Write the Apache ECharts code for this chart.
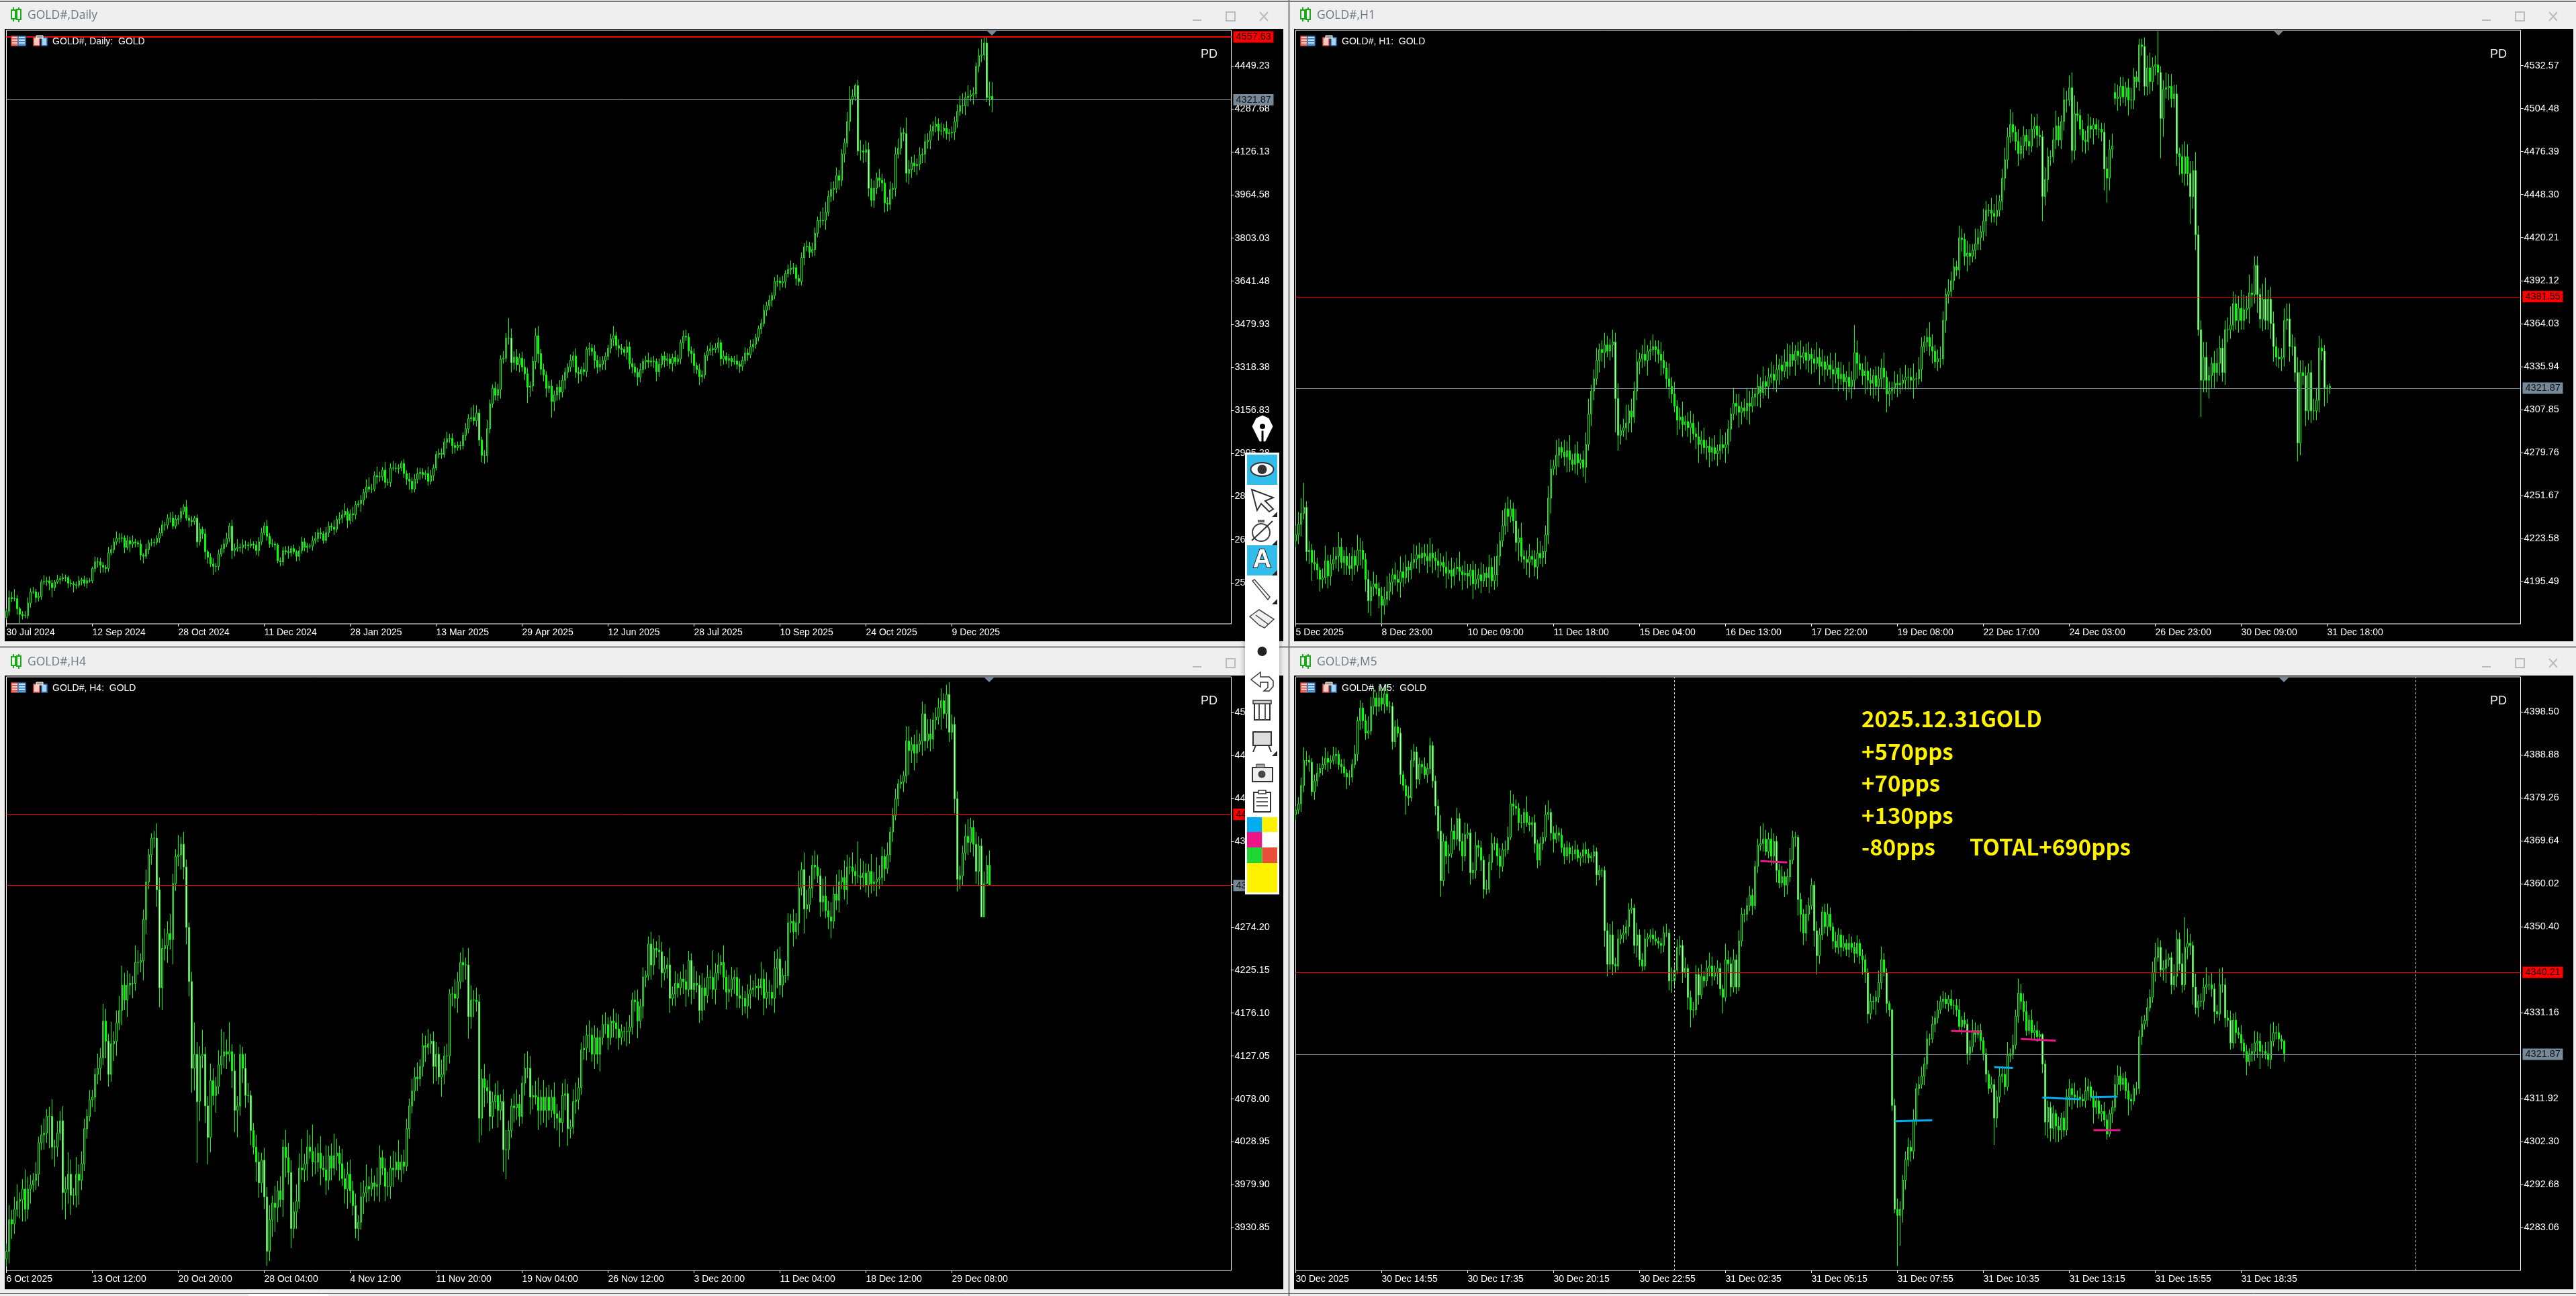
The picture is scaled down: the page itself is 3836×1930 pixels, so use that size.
<!DOCTYPE html>
<html><head><meta charset="utf-8">
<style>html,body{margin:0;padding:0;background:#efefef}#c{width:3836px;height:1930px}</style>
<script src="https://cdn.jsdelivr.net/npm/echarts@6/dist/echarts.min.js"></script></head>
<body><div id="c"></div>
<script>
// ---------- DAILY ----------
const dailyFirstOpen = 2380;
const dailyClose = [
2404,2455,2451,2451,2413,2392,2387,2387,2434,2476,2476,2455,2459,2513,2515,2518,2509,2492,2513,2522,
2526,2529,2530,2509,2507,2503,2501,2518,2522,2509,2518,2518,2564,2589,2589,2576,2568,2564,2623,2635,
2664,2677,2677,2679,2643,2669,2656,2664,2660,2656,2614,2610,2635,2660,2660,2662,2677,2698,2727,2727,
2753,2753,2723,2748,2753,2778,2795,2753,2744,2740,2753,2664,2711,2694,2627,2606,2581,2572,2572,2618,
2639,2656,2677,2723,2631,2639,2643,2643,2652,2652,2650,2656,2652,2631,2664,2698,2723,2685,2656,2656,
2652,2593,2589,2631,2627,2623,2639,2627,2610,2631,2664,2643,2648,2648,2669,2677,2698,2694,2669,2698,
2723,2719,2711,2748,2753,2765,2778,2744,2769,2765,2803,2807,2820,2849,2870,2862,2862,2912,2908,2908,
2933,2887,2887,2941,2941,2939,2941,2958,2920,2899,2891,2862,2899,2920,2925,2916,2920,2891,2912,2941,
2992,2996,2992,3038,3050,3052,3025,3017,3025,3025,3063,3088,3126,3130,3118,3147,3046,2988,2988,3088,
3181,3240,3214,3235,3349,3353,3428,3428,3336,3357,3328,3353,3319,3294,3244,3248,3340,3437,3370,3311,
3290,3240,3248,3190,3215,3244,3225,3270,3300,3319,3345,3361,3300,3294,3310,3302,3386,3390,3378,3345,
3319,3330,3344,3360,3390,3425,3437,3400,3390,3385,3374,3395,3332,3320,3300,3282,3310,3340,3345,3338,
3342,3340,3302,3330,3361,3345,3350,3332,3355,3340,3350,3411,3435,3432,3380,3370,3325,3310,3283,3290,
3362,3380,3388,3385,3392,3411,3350,3360,3345,3352,3340,3342,3330,3322,3345,3372,3365,3395,3405,3430,
3463,3483,3532,3550,3570,3588,3640,3642,3635,3640,3670,3685,3690,3692,3652,3640,3730,3770,3772,3750,
3760,3821,3869,3868,3870,3900,3960,3985,3990,4037,4020,4118,4160,4240,4325,4335,4375,4130,4130,4125,
4135,3990,3945,3990,4029,4020,4010,3935,3930,3985,3990,4118,4140,4198,4195,4046,4060,4085,4075,4080,
4115,4118,4165,4170,4205,4222,4230,4205,4205,4215,4195,4198,4200,4240,4278,4300,4300,4330,4335,4340,
4345,4447,4487,4490,4535,4330,4335,4322];
const dailyWickUp = [
8,22,18,30,12,6,10,14,18,12,16,10,14,8,20,12,14,10,6,16,
8,14,10,6,12,8,10,14,6,12,10,8,6,16,14,12,10,8,18,14,
12,22,16,14,8,16,12,20,10,8,14,6,18,10,14,12,10,16,14,10,
12,18,20,14,10,12,8,22,10,14,8,12,20,8,16,6,12,18,10,14,
12,16,18,10,20,16,26,12,18,14,10,16,8,12,14,16,12,20,10,16,
8,6,10,12,14,18,8,12,6,14,16,12,10,8,14,20,12,16,8,18,
14,10,22,12,18,16,26,10,14,22,12,10,16,12,24,30,16,14,28,16,
10,26,12,14,22,16,12,8,14,10,20,12,16,18,14,12,10,22,18,12,
10,14,16,12,22,14,16,10,12,14,10,18,14,32,40,24,12,10,16,28,
14,12,20,18,12,22,16,63,30,18,24,14,20,26,18,14,16,24,30,14,
18,12,16,20,14,10,22,16,14,12,18,14,24,16,10,22,8,18,14,20,
16,24,14,12,10,16,30,12,20,14,10,22,16,18,12,14,20,10,14,24,
12,16,10,18,8,14,18,16,12,22,14,10,18,20,12,14,16,10,18,14,
10,16,20,12,14,16,10,18,12,14,8,16,20,10,12,18,14,22,16,12,
10,14,18,12,16,10,14,20,12,18,10,16,24,14,10,12,16,12,18,14,
22,18,12,28,40,32,18,24,22,26,18,16,14,30,40,22,6,18,34,20,
28,22,30,24,16,28,20,14,18,26,16,22,30,18,14,50,30,20,26,18,
24,18,24,22,20,16,24,18,26,14,22,12,18,16,22,30,38,18,34,16,
20,12,22,50,18,18,46,44];
const dailyWickDown = [
6,14,10,8,18,28,12,8,10,14,6,16,12,10,8,14,22,30,10,6,
14,8,12,16,10,24,12,8,14,10,16,6,8,12,18,24,16,14,10,8,
12,10,16,12,18,8,26,12,14,10,16,22,8,14,10,12,8,14,10,18,
12,14,10,8,16,12,10,8,22,14,10,18,12,16,24,20,10,26,18,12,
8,14,10,12,26,18,10,14,20,12,16,8,12,14,18,10,8,14,12,10,
16,8,14,12,10,18,12,8,16,14,10,12,16,8,14,10,12,16,10,8,
14,12,18,10,14,16,8,24,12,22,14,8,26,16,18,10,12,8,22,16,
12,18,10,14,8,12,16,10,14,18,26,12,10,14,20,12,16,14,10,16,
8,12,14,10,20,12,26,18,10,14,12,16,14,10,14,18,18,22,26,22,
14,12,16,18,28,14,12,20,30,22,18,24,14,20,50,30,16,24,30,18,
20,28,14,50,30,18,24,16,28,18,14,22,18,30,24,12,16,20,14,26,
20,14,18,30,12,16,22,14,28,16,12,22,18,20,14,28,16,12,24,18,
14,20,30,16,12,22,18,16,24,14,10,16,20,12,18,30,24,14,26,18,
12,16,14,20,10,16,22,18,12,24,14,10,16,20,14,12,18,10,16,14,
12,16,10,18,14,20,12,16,24,14,20,12,16,18,22,14,12,24,14,18,
14,20,12,22,14,30,12,18,34,16,30,18,26,14,30,18,14,14,30,34,
30,26,20,24,18,22,26,30,22,18,30,26,14,20,24,28,34,26,20,30,
18,26,28,22,28,16,18,30,14,22,18,24,16,24,20,14,26,30,28,16,
30,14,18,20,16,14,26,39];
const dailyTickValues = [4449.23,4287.68,4126.13,3964.58,3803.03,3641.48,3479.93,3318.38,3156.83,2995.28,2833.73,2672.18,2510.63];
const dailyDates = ['30 Jul 2024','12 Sep 2024','28 Oct 2024','11 Dec 2024','28 Jan 2025','13 Mar 2025','29 Apr 2025','12 Jun 2025','28 Jul 2025','10 Sep 2025','24 Oct 2025','9 Dec 2025'];
const dailyRange = [2356.5,4582.7];
const dailyBid = 4557.63, dailyAsk = 4321.87;

// ---------- H1 ----------
const h1FirstOpen = 4222;
const h1Close = [
4226,4233,4240,4244,4215,4216,4208,4207,4203,4197,4198,4209,4199,4207,4210,4212,4218,4208,4212,4206,
4204,4212,4206,4216,4216,4210,4197,4183,4192,4194,4191,4186,4180,4184,4189,4195,4200,4197,4195,4202,
4198,4205,4203,4208,4210,4213,4211,4214,4212,4209,4214,4211,4209,4206,4208,4205,4201,4203,4199,4204,
4205,4202,4200,4201,4199,4203,4194,4197,4200,4196,4201,4198,4205,4196,4200,4212,4222,4232,4243,4238,
4243,4235,4221,4224,4212,4210,4208,4212,4210,4205,4214,4211,4215,4226,4250,4269,4271,4278,4283,4280,
4277,4281,4275,4272,4279,4273,4275,4270,4285,4305,4320,4328,4340,4347,4345,4350,4346,4350,4352,4315,
4291,4294,4296,4299,4307,4303,4320,4339,4341,4344,4340,4346,4347,4349,4347,4344,4340,4335,4328,4323,
4318,4310,4301,4303,4298,4300,4296,4299,4292,4290,4285,4288,4283,4284,4280,4283,4279,4281,4285,4283,
4285,4295,4305,4312,4310,4306,4309,4307,4312,4310,4316,4318,4323,4319,4326,4323,4329,4331,4327,4334,
4337,4333,4339,4336,4344,4340,4346,4343,4342,4345,4340,4344,4341,4338,4342,4336,4339,4334,4337,4334,
4331,4335,4328,4331,4326,4329,4323,4327,4345,4338,4334,4330,4333,4327,4325,4330,4323,4328,4335,4329,
4318,4320,4322,4325,4324,4325,4327,4329,4329,4327,4328,4328,4334,4349,4352,4355,4349,4346,4339,4341,
4341,4366,4383,4385,4392,4401,4399,4420,4419,4408,4410,4408,4412,4416,4420,4424,4431,4438,4438,4436,
4434,4438,4444,4459,4471,4486,4494,4489,4483,4475,4480,4487,4483,4480,4491,4493,4487,4486,4447,4458,
4473,4473,4484,4493,4484,4496,4510,4510,4518,4477,4501,4500,4491,4484,4483,4493,4491,4494,4491,4491,
4489,4465,4459,4478,4480,4511,4512,4519,4512,4518,4510,4510,4525,4522,4546,4545,4519,4531,4522,4532,
4533,4528,4498,4517,4518,4519,4511,4514,4475,4473,4462,4473,4462,4447,4464,4422,4360,4327,4342,4327,
4330,4338,4332,4338,4348,4332,4360,4360,4363,4377,4366,4374,4366,4373,4374,4384,4383,4402,4383,4367,
4380,4366,4380,4364,4349,4342,4341,4342,4366,4367,4349,4349,4332,4286,4332,4330,4307,4332,4307,4307,
4314,4348,4346,4322,4322,4323];
const h1WickUp = [
3,4,5,8,2,3,2,4,2,1,3,5,2,3,4,3,5,3,2,3,
4,3,2,5,4,3,2,3,2,4,3,2,3,4,5,3,2,4,3,5,
3,4,2,3,5,3,4,2,3,4,5,3,2,4,3,2,5,3,4,2,
3,5,2,4,3,2,3,5,2,4,3,2,4,3,6,4,3,5,2,4,
3,2,4,3,5,2,3,4,2,3,5,4,2,3,4,3,2,5,3,2,
4,3,5,2,3,4,2,3,4,5,2,3,4,2,3,4,3,2,4,3,
5,2,3,6,2,4,3,4,2,3,5,2,3,4,2,3,4,3,2,5,
3,4,2,3,5,2,3,4,3,2,5,3,4,2,3,3,4,2,5,3,
4,3,2,5,3,4,2,3,5,4,3,2,4,3,5,2,3,4,3,5,
2,3,4,6,3,4,2,3,5,2,3,4,2,3,5,3,4,2,3,4,
3,5,2,4,3,2,5,3,9,4,3,2,5,3,4,2,3,4,3,5,
2,3,2,4,3,5,2,4,3,3,5,2,4,3,2,3,5,4,2,3,
4,3,2,4,3,3,2,4,3,2,4,3,2,5,3,2,4,3,2,4,
3,5,2,3,4,3,5,4,2,4,3,3,2,4,5,3,4,3,2,4,
3,2,4,5,3,2,4,3,4,5,6,4,2,3,3,4,3,2,2,3,
2,3,4,3,4,3,4,3,3,2,3,4,3,2,2,2,3,4,5,3,
3,11,2,3,5,4,4,3,3,2,4,5,4,4,3,6,3,3,5,5,
3,2,4,5,4,3,3,4,6,4,3,4,6,5,4,6,3,3,3,2,
5,7,3,4,4,3,3,3,4,5,5,4,3,5,4,4,3,3,4,4,
4,4,3,2,1,1];
const h1WickDown = [
2,3,4,2,3,4,6,2,3,4,3,2,4,3,2,3,5,2,4,3,
2,4,3,2,5,3,4,4,5,3,2,4,6,3,2,3,4,2,3,5,
3,2,4,3,2,3,5,2,3,4,2,5,3,4,2,3,5,2,4,3,
2,3,5,2,4,3,5,2,3,4,2,3,5,2,3,4,3,2,3,5,
2,4,3,6,2,3,4,5,2,3,4,2,3,4,3,5,2,3,4,2,
3,5,4,2,3,4,2,3,5,2,4,3,2,4,3,5,2,3,4,11,
5,3,2,4,3,5,2,3,4,3,2,5,3,2,4,3,5,2,3,4,
3,2,5,3,4,2,3,5,2,4,6,3,2,4,5,3,2,4,3,2,
5,3,4,2,3,5,4,2,3,6,2,3,4,5,2,3,4,2,3,4,
5,3,2,4,3,2,5,3,4,2,3,4,5,3,2,6,3,4,2,3,
5,3,4,2,3,6,2,4,3,5,2,3,6,3,4,5,3,5,3,4,
6,4,3,2,4,3,2,3,4,3,6,3,2,4,2,3,3,4,2,3,
3,2,4,3,2,3,2,3,4,3,5,3,2,3,2,4,3,5,2,3,
2,3,2,3,4,3,2,3,3,4,2,4,3,3,2,3,4,3,8,3,
4,3,2,3,2,3,3,4,2,4,3,2,2,4,4,3,3,5,2,3,
3,7,8,4,3,2,4,3,2,3,5,3,3,2,3,3,3,3,4,3,
3,4,13,6,3,4,3,3,4,6,3,4,4,9,4,5,2,12,4,4,
6,4,5,3,4,3,4,4,3,2,3,4,3,3,3,5,4,3,6,3,
4,3,3,5,5,3,3,4,3,3,5,3,3,6,4,3,5,3,4,3,
3,4,3,6,5,2];
const h1GapOpens = [[305,4515]];
const h1TickValues = [4532.57,4504.48,4476.39,4448.30,4420.21,4392.12,4364.03,4335.94,4307.85,4279.76,4251.67,4223.58,4195.49];
const h1Dates = ['5 Dec 2025','8 Dec 23:00','10 Dec 09:00','11 Dec 18:00','15 Dec 04:00','16 Dec 13:00','17 Dec 22:00','19 Dec 08:00','22 Dec 17:00','24 Dec 03:00','26 Dec 23:00','30 Dec 09:00','31 Dec 18:00'];
const h1Range = [4167.9,4555.6];
const h1Bid = 4381.55, h1Ask = 4321.87;

// ---------- H4 ----------
const h4FirstOpen = 3895;
const h4Close = [
3904,3940,3935,3952,3961,3963,3975,3952,3975,3980,3985,3992,4028,4037,4039,4058,4058,4023,4023,4039,
4053,3971,3975,3992,3968,3968,3992,3985,4004,4044,4058,4077,4080,4106,4113,4125,4167,4144,4106,4141,
4144,4165,4179,4208,4191,4208,4210,4210,4234,4234,4236,4283,4326,4357,4376,4376,4317,4205,4250,4253,
4267,4260,4324,4355,4357,4369,4343,4274,4212,4113,4129,4075,4127,4129,4070,4034,4099,4082,4092,4117,
4127,4132,4129,4132,4110,4065,4070,4129,4113,4082,4082,4042,4023,4006,3982,4008,3966,3904,3940,3959,
3954,3973,3963,4023,4011,3994,3930,3949,3961,3999,3997,4004,4023,4018,4006,4006,4016,3999,3997,3985,
4013,3999,4013,4016,4004,3987,3975,3992,3973,3956,3930,3937,3966,3971,3978,3975,3982,3978,3980,4011,
3999,3978,3978,3999,3997,4006,3997,4006,4001,4044,4070,4087,4103,4101,4115,4139,4137,4141,4144,4115,
4129,4103,4106,4127,4127,4198,4198,4193,4212,4234,4231,4231,4172,4191,4191,4189,4056,4101,4091,4087,
4058,4075,4082,4065,4075,4020,4020,4042,4070,4068,4072,4058,4096,4113,4113,4080,4082,4080,4065,4080,
4065,4080,4065,4080,4061,4056,4051,4082,4084,4044,4046,4075,4077,4091,4134,4136,4151,4151,4129,4148,
4129,4148,4163,4163,4148,4167,4165,4158,4148,4155,4155,4155,4160,4191,4189,4167,4184,4217,4219,4255,
4231,4250,4248,4246,4222,4227,4231,4193,4198,4210,4205,4215,4212,4203,4236,4203,4210,4208,4179,4205,
4196,4217,4217,4203,4222,4231,4234,4217,4200,4203,4215,4217,4196,4193,4193,4184,4198,4203,4205,4207,
4205,4215,4193,4200,4200,4193,4227,4238,4208,4219,4219,4279,4281,4269,4279,4319,4340,4295,4300,4319,
4345,4343,4333,4303,4310,4293,4286,4281,4312,4305,4326,4331,4317,4343,4343,4338,4333,4333,4331,4336,
4322,4338,4324,4326,4329,4331,4355,4341,4357,4383,4402,4421,4438,4440,4447,4487,4476,4483,4473,4483,
4487,4518,4487,4495,4489,4511,4514,4525,4533,4518,4540,4497,4506,4421,4329,4333,4359,4378,4371,4388,
4369,4338,4367,4286,4324,4345,4322];
const h4WickUp = [
6,12,8,10,14,6,8,16,10,8,6,10,5,8,12,6,8,14,6,10,
8,12,10,18,12,6,14,8,10,8,6,8,6,5,12,8,14,10,6,18,
8,10,12,16,10,12,8,6,14,10,6,8,10,5,4,6,12,10,8,14,
10,16,8,6,16,6,10,6,4,8,26,10,8,20,6,8,14,10,8,12,
22,16,10,24,6,14,8,8,6,12,10,4,6,10,8,6,10,8,12,6,
14,8,12,6,14,12,10,8,14,12,24,8,14,10,22,12,8,14,10,20,
8,10,18,12,6,12,8,10,12,8,10,6,12,10,18,8,12,6,14,10,
6,8,12,10,14,8,18,6,10,8,6,10,8,12,6,10,8,12,6,8,
10,6,12,8,10,4,6,12,8,8,12,6,14,12,8,10,6,8,12,6,
14,8,10,12,6,10,16,8,6,10,12,8,6,12,14,10,8,12,16,6,
14,8,10,6,12,8,6,10,12,8,6,10,14,8,6,10,8,12,6,10,
8,6,8,10,6,4,10,8,12,6,4,8,10,6,8,10,6,8,4,6,
10,8,6,12,8,10,6,14,6,10,8,6,12,10,8,6,14,10,8,12,
8,10,6,22,8,10,6,14,6,12,10,6,8,14,10,6,8,12,6,10,
6,14,8,16,10,6,14,8,10,6,12,8,6,10,8,14,6,14,12,10,
8,12,10,6,14,16,8,12,6,16,10,6,14,10,8,12,6,28,14,10,
8,6,14,8,18,10,8,6,10,4,6,8,4,6,4,12,12,6,8,12,
6,10,8,12,12,6,8,8,10,6,8,10,8,6,6,8,6,10,14,8,
6,10,8,6,10,8,12];
const h4WickDown = [
6,10,12,8,6,14,18,10,8,12,6,8,10,6,12,8,26,10,16,8,
6,14,22,12,16,8,10,20,8,6,8,4,6,12,8,10,6,14,10,6,
14,12,6,12,8,14,8,12,6,10,8,16,12,6,8,8,14,16,18,10,
14,8,20,6,8,12,10,14,12,20,18,50,16,10,14,22,12,8,14,6,
8,10,12,6,14,18,22,8,12,10,6,12,6,16,12,8,10,12,8,14,
20,12,6,14,16,10,16,8,14,6,8,10,14,6,12,10,8,14,6,12,
8,10,6,12,14,6,12,16,10,8,8,10,6,14,8,10,6,12,8,14,
6,12,8,10,14,6,8,10,6,4,8,6,8,10,6,8,12,6,8,14,
12,6,16,8,12,6,10,8,12,6,14,12,18,10,14,8,20,14,16,10,
12,10,6,14,8,18,24,8,6,12,10,8,6,10,8,14,10,6,16,12,
10,14,8,6,12,10,20,8,12,14,8,6,10,8,6,8,10,14,6,12,
8,14,6,8,10,6,12,8,10,6,8,12,10,6,8,14,6,10,8,4,
12,8,6,14,12,6,8,12,6,10,8,6,10,14,6,12,8,6,10,8,
12,6,10,8,12,6,8,10,14,8,6,12,10,8,14,6,10,12,6,8,
10,6,14,8,10,6,12,16,8,10,6,4,8,12,6,10,6,20,8,6,
8,10,6,12,8,6,10,14,6,8,10,6,8,12,6,10,8,6,10,8,
6,10,8,6,12,8,6,10,4,6,8,4,6,4,8,6,20,10,14,8,
6,12,8,6,10,8,8,6,18,4,12,8,6,12,10,8,
8,6,10,8,10,10,12];
const h4TickValues = [4519.45,4470.40,4421.35,4372.30,4323.25,4274.20,4225.15,4176.10,4127.05,4078.00,4028.95,3979.90,3930.85];
const h4Dates = ['6 Oct 2025','13 Oct 12:00','20 Oct 20:00','28 Oct 04:00','4 Nov 12:00','11 Nov 20:00','19 Nov 04:00','26 Nov 12:00','3 Dec 20:00','11 Dec 04:00','18 Dec 12:00','29 Dec 08:00'];
const h4Range = [3882,4560.2];
const h4Bid = 4403.21, h4Ask = 4321.87;

// ---------- M5 (wick arrays are in tenths of a dollar) ----------
const m5FirstOpen = 4375.5;
const m5Close = [
4376.5,4377.9,4382.0,4387.6,4387.6,4387.2,4380.6,4383.0,4384.8,4385.8,4386.7,4388.1,4387.2,4387.6,4388.6,4389.0,4386.7,4386.2,4384.8,4383.9,
4383.9,4386.7,4389.0,4396.5,4399.3,4396.5,4393.7,4394.2,4399.7,4401.6,4399.7,4401.6,4400.2,4402.5,4399.7,4399.7,4391.8,4395.1,4393.7,4384.4,
4382.0,4379.7,4379.3,4387.6,4389.5,4383.4,4386.7,4386.2,4384.4,4385.8,4390.9,4383.0,4377.4,4371.8,4360.7,4369.5,4366.2,4366.7,4371.8,4370.0,
4374.6,4369.5,4366.2,4371.0,4371.4,4362.5,4363.0,4368.6,4368.1,4365.3,4358.8,4358.8,4364.8,4369.0,4369.0,4366.2,4363.9,4367.6,4367.6,4370.4,
4377.9,4377.4,4376.9,4373.7,4373.7,4376.0,4373.7,4373.2,4373.7,4369.0,4365.3,4369.0,4370.4,4375.5,4376.0,4371.4,4370.0,4371.4,4370.9,4368.1,
4366.2,4368.1,4366.7,4366.7,4367.6,4365.8,4366.2,4367.6,4366.7,4365.8,4366.2,4367.2,4362.0,4363.0,4363.0,4349.5,4342.0,4348.6,4342.0,4341.6,
4347.7,4348.6,4349.0,4350.4,4354.2,4354.6,4346.2,4348.6,4343.0,4341.6,4347.7,4348.1,4348.6,4347.7,4347.2,4346.7,4346.2,4349.0,4349.0,4338.3,
4338.3,4340.7,4345.8,4346.2,4340.2,4341.1,4334.6,4331.8,4331.8,4339.7,4335.1,4339.3,4338.3,4341.1,4341.6,4339.3,4340.2,4341.1,4336.5,4334.6,
4343.0,4342.1,4336.9,4343.0,4336.9,4347.2,4353.2,4353.2,4355.1,4357.4,4355.1,4363.9,4368.6,4369.0,4370.0,4367.2,4370.0,4366.2,4369.5,4363.0,
4360.2,4361.6,4359.7,4361.6,4365.3,4370.4,4370.4,4356.5,4353.2,4349.0,4353.2,4355.1,4359.7,4349.5,4343.9,4348.6,4353.7,4350.4,4353.2,4350.4,
4347.2,4345.8,4348.6,4345.8,4346.7,4345.3,4346.7,4345.8,4344.4,4346.7,4343.9,4343.0,4340.2,4330.9,4333.7,4333.7,4334.6,4337.9,4343.0,4340.2,
4333.2,4331.8,4310.4,4287.2,4285.8,4287.2,4293.7,4298.3,4301.1,4300.2,4307.2,4314.2,4315.1,4317.0,4319.7,4325.3,4325.3,4328.6,4330.0,4331.8,
4333.7,4334.2,4333.2,4334.2,4332.8,4332.8,4331.8,4328.1,4329.5,4328.6,4322.0,4323.5,4327.2,4326.3,4327.2,4324.9,4322.0,4317.4,4314.2,4315.1,
4307.6,4312.3,4317.0,4317.4,4314.6,4321.6,4322.0,4323.9,4330.4,4335.5,4333.7,4331.4,4327.2,4329.5,4326.7,4327.2,4325.8,4326.3,4319.7,4306.7,
4310.0,4305.3,4308.6,4305.8,4304.9,4307.6,4304.9,4312.3,4314.2,4312.8,4312.3,4312.3,4311.8,4311.4,4313.7,4314.6,4312.3,4310.0,4311.4,4308.6,
4309.1,4307.2,4304.0,4308.6,4310.0,4315.1,4317.0,4315.1,4316.5,4313.7,4311.8,4311.4,4314.2,4314.2,4325.8,4328.6,4329.5,4332.3,4334.6,4340.2,
4343.5,4345.8,4340.7,4341.1,4343.0,4343.5,4337.4,4339.3,4347.6,4342.1,4337.4,4345.8,4346.7,4346.2,4336.9,4332.3,4333.7,4333.7,4336.9,4337.4,
4337.4,4336.5,4331.4,4330.9,4337.4,4337.4,4330.0,4329.5,4324.4,4329.5,4326.7,4326.3,4324.4,4322.5,4320.2,4322.0,4322.5,4324.4,4324.8,4322.5,
4322.5,4322.0,4320.7,4324.8,4326.7,4326.7,4325.3,4324.8,4322.0];
const m5WickUp = [
6,10,12,20,14,8,6,10,14,8,12,16,10,8,14,10,6,8,12,6,
10,8,14,6,12,8,10,22,14,16,8,18,12,10,14,8,6,10,12,8,
6,10,14,16,12,8,10,6,14,8,12,6,8,10,24,12,8,14,20,10,
16,8,12,18,14,6,12,20,8,10,6,14,12,16,10,8,12,10,14,16,
20,14,10,8,12,6,24,10,8,12,6,10,8,14,18,6,10,12,8,10,
6,10,8,12,14,8,6,10,12,8,6,10,6,8,4,6,12,16,20,10,
14,8,12,10,10,14,6,18,8,10,14,6,8,10,12,6,8,10,14,6,
20,10,12,14,8,16,6,10,12,14,10,18,8,12,20,14,10,12,8,6,
24,14,10,16,8,16,10,8,12,14,10,8,10,26,24,14,10,16,12,8,
10,16,8,12,18,10,8,4,10,8,14,12,10,6,14,10,8,12,16,10,
6,14,10,8,12,6,14,10,8,12,6,10,8,6,12,8,10,18,20,10,
6,4,2,10,16,12,8,12,14,10,16,8,12,14,10,12,8,12,10,14,
8,12,10,6,14,8,10,16,6,12,8,10,16,12,8,10,6,8,6,12,
8,10,14,12,10,20,8,16,10,22,14,12,16,8,16,8,14,6,2,6,
10,8,12,6,14,8,10,12,14,8,18,10,14,8,20,12,8,10,14,6,
10,14,8,6,10,14,16,14,8,10,12,8,6,10,10,12,8,14,12,16,
22,14,10,12,16,6,8,18,14,10,16,45,22,14,6,20,10,12,14,26,
14,18,8,10,24,26,10,12,14,10,12,8,14,6,10,8,12,18,14,12,
10,14,18,26,16,10,14,6,2];
const m5WickDown = [
8,6,12,10,8,14,6,12,8,6,10,8,14,10,6,12,8,10,6,18,
12,8,6,10,14,12,10,8,6,12,14,8,10,14,6,10,12,8,6,14,
8,28,12,6,10,14,8,10,6,12,8,10,14,12,24,8,12,26,6,16,
10,14,22,8,6,18,10,12,14,16,14,8,6,12,10,14,18,8,10,6,
4,14,10,12,8,16,6,10,18,14,12,8,10,6,8,12,20,6,10,8,
12,6,14,10,8,6,12,10,14,8,6,10,16,8,10,24,18,8,16,10,
6,8,12,10,14,6,12,18,10,8,6,12,8,10,6,8,12,10,6,14,
18,10,6,12,16,8,18,26,12,8,14,6,10,8,12,14,6,18,10,24,
6,12,14,8,10,6,8,12,10,8,14,6,10,8,12,6,10,14,12,18,
8,6,18,14,8,6,14,24,26,18,12,10,6,24,28,12,8,10,14,6,
12,8,10,14,6,10,12,8,14,6,12,22,16,14,8,12,20,8,10,6,
14,10,8,6,75,45,20,14,10,16,12,8,10,6,14,8,10,6,12,8,
6,10,8,12,6,14,10,8,12,6,16,10,8,12,6,14,10,12,8,6,
40,14,8,10,12,6,10,8,6,10,12,14,8,6,10,12,8,6,14,20,
24,20,16,24,18,14,10,8,14,22,10,16,12,8,10,14,6,24,10,8,
12,10,8,4,14,6,16,10,8,12,24,14,6,10,8,12,8,10,6,8,
14,6,10,16,22,10,14,8,16,10,12,8,18,14,26,10,14,8,12,10,
8,12,18,6,10,12,14,10,10,8,16,6,12,10,20,6,12,14,22,26,
10,8,10,14,8,10,18,12,12];
const m5TickValues = [4398.50,4388.88,4379.26,4369.64,4360.02,4350.40,4331.16,4311.92,4302.30,4292.68,4283.06];
const m5Dates = ['30 Dec 2025','30 Dec 14:55','30 Dec 17:35','30 Dec 20:15','30 Dec 22:55','31 Dec 02:35','31 Dec 05:15','31 Dec 07:55','31 Dec 10:35','31 Dec 13:15','31 Dec 15:55','31 Dec 18:35'];
const m5Range = [4273.5,4406.3];
const m5Bid = 4340.21, m5Ask = 4321.87;
const m5SessionBars = [141,417];
// trade marks: start bar, start price, end bar, end price
const m5BlueMarks = [[223,4306.9,237,4307.1],[260,4319.0,267,4318.8],[278,4312.2,292,4311.8],[296,4312.3,306,4312.4]];
const m5PinkMarks = [[173,4365.1,183,4364.8],[244,4327.1,255,4326.9],[270,4325.3,283,4324.9],[297,4304.9,307,4304.9]];
const noteLines = ['2025.12.31GOLD','+570pps','+70pps','+130pps','-80pps'];
const noteTotal = 'TOTAL+690pps';

const SLOTS = 457, STEP = 32;
const LABEL_FONT = '"Liberation Sans"';
const GREEN = '#00ff00';
const W = 1824, H = 884;
const WHITE_BODY_PX = 30; // only tall falling bodies show a white core

function ohlc(close, up, dn, first, scale, range, gaps) {
  const gapMap = new Map(gaps || []);
  const whiteFrom = (range[1] - range[0]) / H * WHITE_BODY_PX;
  return close.map((c, i) => {
    const o = gapMap.has(i) ? gapMap.get(i) : (i ? close[i-1] : first);
    const value = [o, c, Math.min(o, c) - (dn[i] || 0) * scale, Math.max(o, c) + (up[i] || 0) * scale];
    return o - c >= whiteFrom ? {value, itemStyle:{color0:'#fff'}} : {value};
  });
}
function slots(dates) {
  const a = new Array(SLOTS).fill('');
  dates.forEach((d, k) => a[k * STEP] = d);
  return a;
}
const panels = [
  {name:'Daily', left:9, top:45, dates:dailyDates, ticks:dailyTickValues, range:dailyRange, bid:dailyBid, ask:dailyAsk, bidW:2, askColor:'#778899',
   data:ohlc(dailyClose,dailyWickUp,dailyWickDown,dailyFirstOpen,1.2,dailyRange), marker:367},
  {name:'H1', left:1929, top:45, dates:h1Dates, ticks:h1TickValues, range:h1Range, bid:h1Bid, ask:h1Ask, bidW:1, askColor:'#778899',
   data:ohlc(h1Close,h1WickUp,h1WickDown,h1FirstOpen,2,h1Range,h1GapOpens), marker:366},
  {name:'H4', left:9, top:1008, dates:h4Dates, ticks:h4TickValues, range:h4Range, bid:h4Bid, ask:h4Ask, bidW:1, askColor:'#ff0000',
   data:ohlc(h4Close,h4WickUp,h4WickDown,h4FirstOpen,1.4,h4Range), marker:366},
  {name:'M5', left:1929, top:1008, dates:m5Dates, ticks:m5TickValues, range:m5Range, bid:m5Bid, ask:m5Ask, bidW:1, askColor:'#778899',
   data:ohlc(m5Close,m5WickUp,m5WickDown,m5FirstOpen,0.15,m5Range), marker:368}
];

const grids = [], xAxes = [], yAxes = [], series = [];
function priceLine(v, color, width, box) {
  return {yAxis:v, lineStyle:{color, width, type:'solid'},
    label:{show:true, position:'end', distance:3, formatter:v.toFixed(2), color:'#111', backgroundColor:box,
      fontFamily:LABEL_FONT, fontSize:14.5, padding:[2,4,1,4], width:52, lineHeight:14}};
}
panels.forEach((p, n) => {
  grids.push({left:p.left + 0.5, top:p.top, width:W, height:H, show:true, backgroundColor:'#000', borderColor:'#fff', borderWidth:1});
  xAxes.push({gridIndex:n, type:'category', boundaryGap:false, data:slots(p.dates),
    axisLine:{show:false}, splitLine:{show:false},
    axisTick:{show:true, length:4, interval:(i,v)=>v!=='', lineStyle:{color:'#fff'}},
    axisLabel:{show:true, interval:(i,v)=>v!=='', align:'left', margin:6, color:'#fff', fontFamily:LABEL_FONT, fontSize:14}});
  yAxes.push({gridIndex:n, type:'value', position:'right', min:p.range[0], max:p.range[1],
    splitLine:{show:false}, axisLine:{show:false},
    axisTick:{show:true, length:4, customValues:p.ticks, lineStyle:{color:'#fff'}},
    axisLabel:{show:true, customValues:p.ticks, margin:5, formatter:v=>(+v).toFixed(2), color:'#fff', fontFamily:LABEL_FONT, fontSize:14.5}});
  const marks = [priceLine(p.bid,'#ff0000',p.bidW,'#ff0000'), priceLine(p.ask,p.askColor,1,'#778899')];
  if (p.name === 'M5') m5SessionBars.forEach(b => marks.push({xAxis:b, label:{show:false}, lineStyle:{color:'#ddd', width:1, type:[3,3]}}));
  series.push({type:'candlestick', xAxisIndex:n, yAxisIndex:n, data:p.data, barWidth:2, clip:false, silent:true,
    itemStyle:{color:'#000', color0:GREEN, borderColor:GREEN, borderColor0:GREEN, borderWidth:1},
    markLine:{silent:true, symbol:'none', animation:false, data:marks}});
});
function markSeries(list, color) {
  list.forEach(m => series.push({type:'line', xAxisIndex:3, yAxisIndex:3, data:[[m[0],m[1]],[m[2],m[3]]], showSymbol:false, silent:true, z:5,
    lineStyle:{color, width:3}}));
}
markSeries(m5BlueMarks, '#00aeef');
markSeries(m5PinkMarks, '#ed1487');

// ---------- window chrome and overlays ----------
const g = [];
const R = (x,y,w,h,fill,z,extra) => g.push({type:'rect', z, silent:true, shape:{x,y,width:w,height:h}, style:Object.assign({fill}, extra||{})});
const T = (x,y,text,font,fill,z,extra) => g.push({type:'text', z, silent:true, style:Object.assign({x,y,text,font,fill,textVerticalAlign:'middle'}, extra||{})});
const L = (x1,y1,x2,y2,stroke,lw,z) => g.push({type:'line', z, silent:true, shape:{x1,y1,x2,y2}, style:{stroke,lineWidth:lw}});
const POLY = (points,fill,stroke,lw,z) => g.push({type:'polygon', z, silent:true, shape:{points}, style:{fill,stroke,lineWidth:lw}});
const C = (cx,cy,r,fill,z,extra) => g.push({type:'circle', z, silent:true, shape:{cx,cy,r}, style:Object.assign({fill}, extra||{})});
const BACK = -5, FRONT = 20, TOOL = 100;

R(7,43,1904,912,'#000',BACK); R(1927,43,1905,912,'#000',BACK);
R(7,1006,1904,914,'#000',BACK); R(1927,1006,1905,914,'#000',BACK);
L(0,2,3836,2,'#7a7a7a',2,BACK); L(0,963.5,3836,963.5,'#7a7a7a',2,BACK);
L(1919.5,0,1919.5,1930,'#7a7a7a',2,BACK); L(0,1926.5,3836,1926.5,'#555',1,BACK);
R(370,1927,119,3,'#fff',BACK);

panels.forEach(p => {
  const x = p.left, y = p.top, barY = y - 22;
  const axisX = x + W;
  // title-bar candle icon
  L(x+11,barY-12,x+11,barY+9,'#18a818',2,BACK);
  L(x+19,barY-12,x+19,barY+10,'#18a818',2,BACK);
  R(x+8,barY-8,6,13,'#efefef',BACK,{stroke:'#18a818',lineWidth:2});
  R(x+16,barY-9,6,15,'#efefef',BACK,{stroke:'#18a818',lineWidth:2});
  T(x+32,barY,'GOLD#,'+p.name,'17.5px "Open Sans"','#6d7785',BACK);
  // window buttons
  L(axisX-57,barY+7,axisX-44,barY+7,'#bbb',2,BACK);
  R(axisX-7,barY-5,13,13,'none',BACK,{stroke:'#bbb',lineWidth:2});
  L(axisX+43,barY-5,axisX+55,barY+8,'#bbb',2,BACK);
  L(axisX+55,barY-5,axisX+43,barY+8,'#bbb',2,BACK);
  // chart-corner icons
  R(x+8,y+9,10,14,'#f7c9c4',FRONT,{stroke:'#d8453d',lineWidth:1.5});
  R(x+18,y+9,11,14,'#c7dff3',FRONT,{stroke:'#1f6fb5',lineWidth:1.5});
  [12,16,20].forEach(o => { R(x+9,y+o,8,1.5,'#d8453d',FRONT); R(x+19,y+o,9,1.5,'#1f6fb5',FRONT); });
  R(x+41,y+11,9,12,'#f7c9c4',FRONT,{stroke:'#d8453d',lineWidth:1.5});
  R(x+53,y+11,8,12,'#a9d3f2',FRONT,{stroke:'#1f6fb5',lineWidth:1.5});
  R(x+45,y+8,10,4,'#999',FRONT,{stroke:'#fff',lineWidth:1});
  T(x+69,y+17,'GOLD#, '+p.name+':  GOLD','14px '+LABEL_FONT,'#fff',FRONT);
  T(axisX-45,y+36,'PD','18px '+LABEL_FONT,'#eee',FRONT);
  // last-bar marker on the top frame
  const mx = x + (p.name==='H1'?1464:(p.marker*4));
  POLY([[mx-7,y+1],[mx+7,y+1],[mx,y+8]],'#778899',null,0,FRONT);
});

// text note on M5
const noteYs = [1070,1119,1166,1214,1261];
noteLines.forEach((s,i) => T(2772,noteYs[i],s,'bold 33px "Noto Sans CJK KR"','#fff200',FRONT));
T(2933,1261,noteTotal,'bold 33px "Noto Sans CJK KR"','#fff200',FRONT);

// drawing toolbar
POLY([[1880,619],[1889,623],[1895,635],[1884,657],[1882,657],[1882,641],[1878,641],[1878,657],[1876,657],[1865,635],[1871,623]],'#fff','#fff',1,TOOL);
C(1880,635,4,'#000',TOOL);
g.push({type:'rect', z:TOOL-1, silent:true, shape:{x:1854,y:674,width:51,height:658}, style:{fill:'#fff',shadowBlur:8,shadowColor:'rgba(0,0,0,0.35)'}});
R(1857,677,45,45,'#33bdea',TOOL);
g.push({type:'ellipse', z:TOOL, silent:true, shape:{cx:1879.5,cy:699,rx:17,ry:10}, style:{fill:'#fff',stroke:'#333',lineWidth:2}});
C(1879.5,699,7,'#333',TOOL);
POLY([[1864,729],[1896,741],[1884,746],[1896,758],[1890,762],[1878,750],[1872,760]],'#fff','#333',2,TOOL);
C(1878,793,13,'#fff',TOOL,{stroke:'#444',lineWidth:2});
R(1873,774,10,4,'#666',TOOL);
L(1864,805,1895,776,'#333',2,TOOL);
R(1857,812,45,45,'#33bdea',TOOL);
g.push({type:'text', z:TOOL, silent:true, style:{x:1879.5,y:835,text:'A',font:'bold 38px "Liberation Sans"',fill:'#fff',stroke:'#222',lineWidth:2,textAlign:'center',textVerticalAlign:'middle'}});
POLY([[1865,865],[1868,863],[1891,889],[1888,893]],'#fff','#444',1.5,TOOL);
POLY([[1861,918],[1875,908],[1897,922],[1883,935],[1875,931]],'#f0f0f0','#444',1.5,TOOL);
L(1870,916,1889,930,'#444',1.5,TOOL);
C(1879.5,970,7,'#222',TOOL);
POLY([[1877,1001],[1863,1012],[1877,1023],[1877,1016],[1888,1016],[1888,1024],[1882,1029],[1890,1029],[1896,1022],[1896,1014],[1890,1008],[1877,1008]],'#fff','#333',1.5,TOOL);
R(1868,1044,23,28,'#fff',TOOL,{stroke:'#333',lineWidth:2});
R(1866,1043,27,5,'#ccc',TOOL,{stroke:'#333',lineWidth:1.5});
L(1875,1048,1875,1072,'#555',2,TOOL); L(1884,1048,1884,1072,'#555',2,TOOL);
R(1866,1090,27,20,'#ddd',TOOL,{stroke:'#333',lineWidth:2});
L(1870,1110,1866,1120,'#333',2,TOOL); L(1889,1110,1893,1120,'#333',2,TOOL);
R(1865,1143,30,21,'#eee',TOOL,{stroke:'#333',lineWidth:2});
R(1871,1138,12,5,'#aaa',TOOL,{stroke:'#333',lineWidth:1});
C(1879,1153,6,'#444',TOOL,{stroke:'#eee',lineWidth:1});
R(1867,1180,25,29,'#fff',TOOL,{stroke:'#333',lineWidth:2});
R(1874,1177,11,5,'#fff',TOOL,{stroke:'#333',lineWidth:1.5});
[1188,1194,1200].forEach(y => L(1871,y,1888,y,'#333',1.5,TOOL));
[[1895,770],[1895,812],[1895,857],[1895,900],[1895,1126]].forEach(c =>
  POLY([[c[0]+7,c[1]-8],[c[0]+7,c[1]],[c[0]-1,c[1]]],'#222',null,0,TOOL));
R(1857,1217,22.5,22,'#00aeef',TOOL); R(1879.5,1217,22.5,22,'#fff200',TOOL);
R(1857,1239,22.5,23,'#ed1487',TOOL); R(1879.5,1239,22.5,23,'#ffffff',TOOL);
R(1857,1262,22.5,23,'#1ed635',TOOL); R(1879.5,1262,22.5,23,'#e8503a',TOOL);
R(1857,1285,45,44,'#fff200',TOOL);

const chart = echarts.init(document.getElementById('c'), null, {width:3836, height:1930, renderer:'canvas', devicePixelRatio:1});
chart.setOption({
  animation:false, backgroundColor:'#efefef',
  grid:grids, xAxis:xAxes, yAxis:yAxes, series, graphic:{elements:g}
});
</script></body></html>
